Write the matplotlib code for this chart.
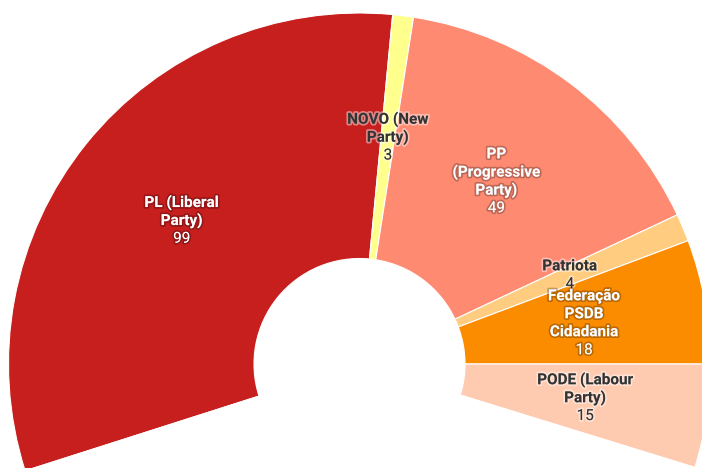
import numpy as np
import matplotlib
matplotlib.use("Agg")
import matplotlib.pyplot as plt
import matplotlib.patheffects as pe

plt.rcParams['font.family'] = ['Roboto', 'DejaVu Sans']

# ---- data ----
parties = ["PL (Liberal\nParty)", "NOVO (New\nParty)", "PP\n(Progressive\nParty)",
           "Patriota", "Federação\nPSDB\nCidadania", "PODE (Labour\nParty)"]
seats = [99, 3, 49, 4, 18, 15]
hidden_rest = 127  # seats outside the visible arc (not shown)
colors = ["#c71e1e", "#ffff8d", "#ff8a72", "#ffcc80", "#fb8c00", "#ffcbb0"]
label_colors = ["white", "#333333", "white", "#333333", "white", "#333333"]

W, H = 702, 468
fig = plt.figure(figsize=(W / 100, H / 100), dpi=100)
ax = fig.add_axes([0, 0, 1, 1])

cx, cy = 359.5, H - 364
R_out, R_in = 351, 105.5
values = seats + [hidden_rest]
total = sum(values)
start = sum(seats[:5]) / total * 360.0

wedges, _ = ax.pie(values, colors=colors + ["white"], startangle=start,
                   counterclock=False, center=(cx, cy), radius=R_out,
                   wedgeprops=dict(width=R_out - R_in, edgecolor="white", linewidth=0.8))

ax.set_xlim(0, W)
ax.set_ylim(0, H)
ax.set_aspect("equal")
ax.axis("off")

r_lab = (R_out + R_in) / 2
line_px = 18
px2pt = 72 / 100
for w, name, val, tc in zip(wedges[:-1], parties, seats, label_colors):
    ang = np.deg2rad((w.theta1 + w.theta2) / 2)
    x = cx + r_lab * np.cos(ang)
    y = cy + r_lab * np.sin(ang)
    lines = name.split("\n")
    n = len(lines) + 1
    if tc == "white":
        eff = [pe.withStroke(linewidth=2.5, foreground=(0, 0, 0, 0.25))]
    else:
        eff = [pe.withStroke(linewidth=2.5, foreground=(1, 1, 1, 0.45))]
    for k, ln in enumerate(lines + [str(val)]):
        off = (k - (n - 1) / 2) * line_px
        ax.annotate(ln, xy=(x, y), xytext=(0, -off * px2pt), textcoords="offset points",
                    ha="center", va="center", fontsize=11, color=tc,
                    fontweight="bold" if k < len(lines) else "normal",
                    path_effects=eff)

fig.savefig("out.png", dpi=100)
